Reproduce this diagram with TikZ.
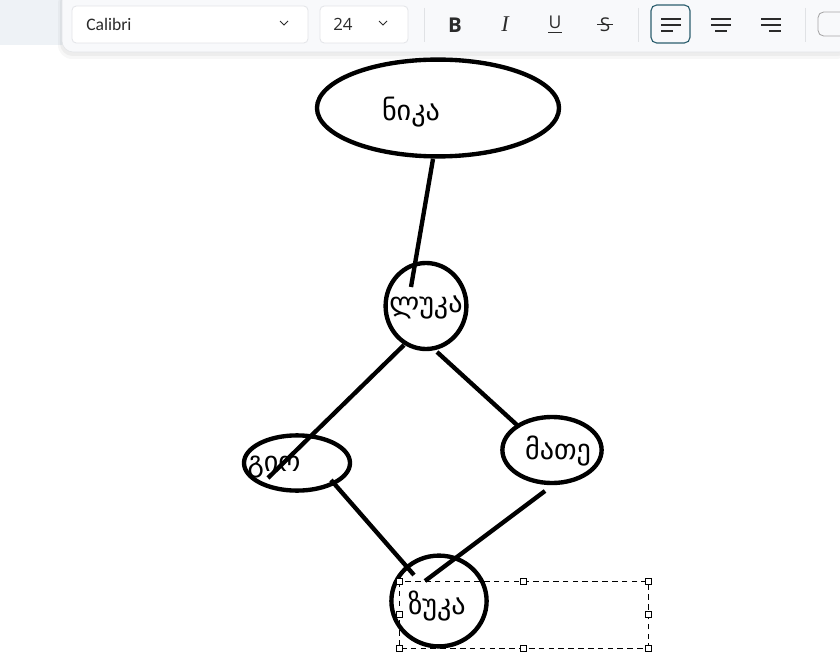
\documentclass[tikz,border=0pt]{standalone}
\usepackage{fontspec}
\setmainfont{DejaVu Sans}
\newfontfamily\geo[Script=Georgian]{DejaVu Sans}
\newfontfamily\ui{Open Sans}
\newfontfamily\calfont{Carlito}
\newfontfamily\serifui{Liberation Serif}
\usetikzlibrary{shapes.geometric}
\definecolor{stripbg}{HTML}{EEF2F6}
\definecolor{barbg}{HTML}{F8F9FB}
\definecolor{barline}{HTML}{E3E5E8}
\definecolor{sepline}{HTML}{E0E2E5}
\definecolor{iconink}{HTML}{2B2B2B}
\definecolor{pickline}{HTML}{2C5F6E}

\begin{document}
\begin{tikzpicture}[x=0.025cm, y=-0.025cm,
  person/.style={draw, ellipse, line width=3.1pt, inner sep=0pt},
  tag/.style={font=\geo\fontsize{20}{24}\selectfont, inner sep=0pt},
  tie/.style={line width=3.1pt},
  uibox/.style={draw=barline, fill=white, rounded corners=3pt, line width=0.6pt},
  uitext/.style={font=\ui\fontsize{12}{14}\selectfont, text=iconink, inner sep=0pt},
  icon/.style={iconink, line width=0.9pt},
  handle/.style={draw, fill=white, rectangle, minimum size=0.15cm, inner sep=0pt, line width=0.5pt}]

\useasboundingbox (0,0) rectangle (840,662);
\fill[white] (0,0) rectangle (840,662);
\fill[stripbg] (0,0) rectangle (840,45);

\fill[black, opacity=0.03, rounded corners=10pt] (58,-10) rectangle (850,59);
\fill[black, opacity=0.04, rounded corners=9pt] (60,-10) rectangle (850,56);
\draw[barline, fill=barbg, rounded corners=8pt] (62,-10) rectangle (850,52);

\draw[uibox] (72,6) rectangle (308,43);
\node[font=\calfont\fontsize{12.5}{14}\selectfont, text=iconink, anchor=west, inner sep=0pt] (fontname) at (86,24) {Calibri};
\draw[icon, line width=0.6pt] (280,21) -- (284,25) -- (288,21);
\draw[uibox] (320,6) rectangle (408,43);
\node[uitext, anchor=west] (fontsize) at (333,24) {24};
\draw[icon, line width=0.6pt] (379,21) -- (383,25) -- (387,21);
\draw[sepline] (424,8) -- (424,42);

\node[font=\ui\bfseries\fontsize{14.5}{16}\selectfont, text=iconink, inner sep=0pt] (bold) at (455,25) {B};
\node[font=\serifui\itshape\fontsize{16}{16}\selectfont, text=iconink, inner sep=0pt] (italic) at (505,24) {I};
\node[uitext, font=\ui\fontsize{12.5}{14}\selectfont] (under) at (555,22) {U};
\draw[icon, line width=0.6pt] (548,32.5) -- (562,32.5);
\node[uitext, font=\ui\fontsize{13.5}{14}\selectfont] (strike) at (605,25) {S};
\draw[icon, line width=0.6pt] (597,24.5) -- (613,24.5);
\draw[sepline] (638,8) -- (638,42);

\draw[pickline, fill=barbg, rounded corners=4pt, line width=0.8pt] (651,5) rectangle (690,43);
\draw[icon] (661,19) -- (681,19);
\draw[icon] (661,25) -- (681,25);
\draw[icon] (661,31) -- (673,31);
\draw[icon] (711,19) -- (731,19);
\draw[icon] (711,25) -- (731,25);
\draw[icon] (715,31) -- (727,31);
\draw[icon] (761,19) -- (781,19);
\draw[icon] (761,25) -- (781,25);
\draw[icon] (769,31) -- (781,31);
\draw[sepline] (805,8) -- (805,42);
\draw[gray!70, rounded corners=4pt, line width=0.6pt] (818,12) rectangle (850,36);

\node[person, minimum width=6.05cm, minimum height=2.42cm] (nika) at (438,108) {};
\node[person, minimum width=2.02cm, minimum height=2.15cm] (luka) at (426,306) {};
\node[person, minimum width=2.65cm, minimum height=1.38cm] (gio) at (297,463) {};
\node[person, minimum width=2.48cm, minimum height=1.65cm] (mate) at (552,450) {};
\node[person, minimum width=2.38cm, minimum height=2.27cm] (zuka) at (439,601) {};

\node[tag] (nikaname) at (411,112) {ნიკა};
\node[tag] (lukaname) at (426,307) {ლუკა};
\node[tag] (gioname) at (274,467) {გიო};
\node[tag] (matename) at (558,451) {მათე};
\node[tag] (zukaname) at (437,606) {ზუკა};

\coordinate (nikafoot) at (433,159);
\coordinate (lukain) at (411,287);
\coordinate (lukaleft) at (404,345);
\coordinate (gioin) at (268,478);
\coordinate (lukaright) at (437,352);
\coordinate (mateedge) at (517,425);
\coordinate (giofoot) at (331,480);
\coordinate (zukaleft) at (414,575);
\coordinate (matefoot) at (545,491);
\coordinate (zukaright) at (425,581);

\draw[tie] (nikafoot) -- (lukain);
\draw[tie] (lukaleft) -- (gioin);
\draw[tie] (lukaright) -- (mateedge);
\draw[tie] (giofoot) -- (zukaleft);
\draw[tie] (matefoot) -- (zukaright);

\draw[dashed, line width=0.6pt, dash pattern=on 4pt off 3pt] (399,581) rectangle (648,648);
\node[handle] (h1) at (399,581) {};
\node[handle] (h2) at (523,581) {};
\node[handle] (h3) at (648,581) {};
\node[handle] (h4) at (399,614) {};
\node[handle] (h5) at (648,614) {};
\node[handle] (h6) at (399,648) {};
\node[handle] (h7) at (523,648) {};
\node[handle] (h8) at (648,648) {};

\end{tikzpicture}
\end{document}
